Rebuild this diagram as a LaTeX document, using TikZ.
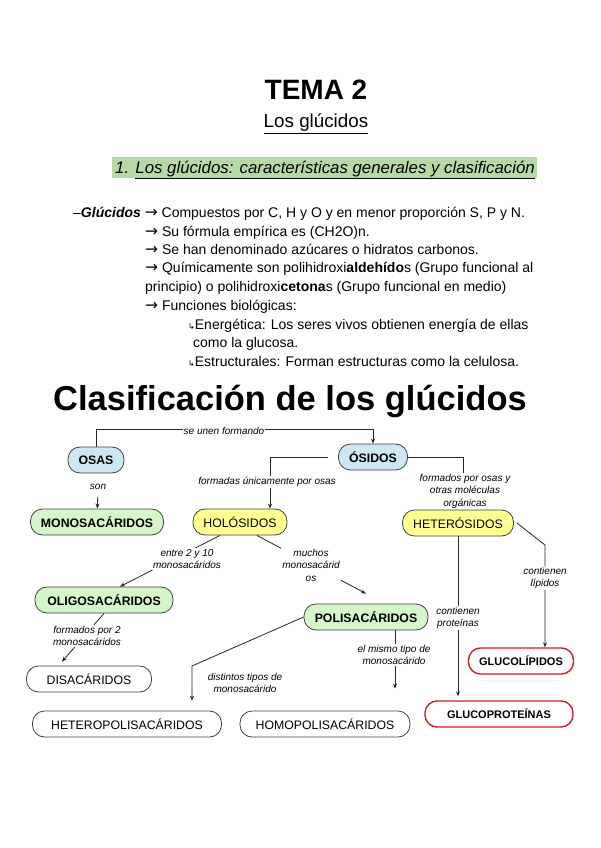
\documentclass[tikz,border=0pt]{standalone}
\usepackage{fontspec}
\setmainfont{Liberation Sans}
\newfontfamily\arrowfont{DejaVu Sans}
\usetikzlibrary{arrows.meta,positioning}

\definecolor{osablue}{RGB}{205,232,242}
\definecolor{sacgreen}{RGB}{214,245,202}
\definecolor{osidyellow}{RGB}{255,255,145}
\definecolor{headgreen}{RGB}{182,217,166}
\definecolor{glured}{RGB}{210,30,30}
\newcommand\fsz[2]{\fontsize{#1}{#2}\selectfont}
\newcommand\hook{{\arrowfont\fsz{8}{8}↳}}
\newcommand\rarr{\raisebox{-0.6pt}{\arrowfont\fsz{15.5}{15}→}}

\begin{document}
\begin{tikzpicture}[x=1pt, y=-1pt,
  box/.style={draw=black!75, line width=0.8pt, rounded corners=12pt, minimum height=26pt, inner sep=2pt, font=\fsz{12.3}{14}},
  osabox/.style={box, fill=osablue, font=\fsz{12.3}{14}\bfseries},
  sacbox/.style={box, fill=sacgreen, font=\fsz{12.3}{14}\bfseries},
  osidbox/.style={box, fill=osidyellow},
  plainbox/.style={box, fill=white},
  redbox/.style={box, draw=glured, line width=1.4pt, fill=white, font=\fsz{11}{13}\bfseries},
  lbl/.style={font=\fsz{10}{12.5}\itshape, align=center, inner sep=1pt, fill=white},
  arr/.style={draw=black!85, line width=0.8pt, -{Stealth[length=5pt,width=4pt]}},
  txt/.style={anchor=base west, inner sep=0pt, font=\fsz{14}{15}}]
  \useasboundingbox[fill=white] (0,0) rectangle (600,848);

  % headings
  \node[anchor=base, inner sep=0pt, font=\fsz{28}{30}\bfseries] (tema) at (316,100) {TEMA 2};
  \node[anchor=base, inner sep=0pt, font=\fsz{18.8}{20}] (sub) at (316,128) {\underline{Los glúcidos}};
  \fill[headgreen] (112,157) rectangle (537,178);
  \node[anchor=base west, inner sep=0pt, font=\fsz{16.8}{18}\itshape] (sec) at (115,173) {1. \underline{Los glúcidos: características generales y clasificación}};

  % text block
  \node[txt] (l1) at (73,217) {–\textbf{\textit{Glúcidos}} \rarr{} Compuestos por C, H y O y en menor proporción S, P y N.};
  \node[txt] (l2) at (145,236) {\rarr{} Su fórmula empírica es (CH2O)n.};
  \node[txt] (l3) at (145,254) {\rarr{} Se han denominado azúcares o hidratos carbonos.};
  \node[txt] (l4) at (145,272) {\rarr{} Químicamente son polihidroxi\textbf{aldehído}s (Grupo funcional al};
  \node[txt] (l5) at (145,291) {principio) o polihidroxi\textbf{cetona}s (Grupo funcional en medio)};
  \node[txt] (l6) at (145,310) {\rarr{} Funciones biológicas:};
  \node[txt] (l7) at (188,329) {\hook Energética: Los seres vivos obtienen energía de ellas};
  \node[txt] (l8) at (193,347) {como la glucosa.};
  \node[txt] (l9) at (188,366) {\hook Estructurales: Forman estructuras como la celulosa.};

  \node[anchor=base, inner sep=0pt, font=\fsz{34.5}{36}\bfseries] (clas) at (290,410) {Clasificación de los glúcidos};

  % boxes
  \node[osabox, minimum width=56pt] (osas) at (96,460) {OSAS};
  \node[osabox, minimum width=69pt] (osid) at (373,457) {ÓSIDOS};
  \node[sacbox, minimum width=133pt] (mono) at (97,522) {MONOSACÁRIDOS};
  \node[osidbox, minimum width=94pt] (hol) at (240,522) {HOLÓSIDOS};
  \node[osidbox, minimum width=111pt] (het) at (458,523) {HETERÓSIDOS};
  \node[sacbox, minimum width=138pt] (oligo) at (104,600) {OLIGOSACÁRIDOS};
  \node[sacbox, minimum width=124pt] (poli) at (366,617) {POLISACÁRIDOS};
  \node[plainbox, minimum width=125pt] (dis) at (89,679) {DISACÁRIDOS};
  \node[plainbox, minimum width=189pt] (hetpol) at (127,724) {HETEROPOLISACÁRIDOS};
  \node[plainbox, minimum width=170pt] (hompol) at (325,724) {HOMOPOLISACÁRIDOS};
  \node[redbox, minimum width=105pt] (glip) at (521,661) {GLUCOLÍPIDOS};
  \node[redbox, minimum width=148pt] (gprot) at (499,714) {GLUCOPROTEÍNAS};

  \coordinate (hbend) at (192,666);
  \coordinate (lbend) at (545,545);

  % connectors
  \draw[arr] (osas.north) -- ++(0,-17) -| (osid.north);
  \draw[arr] ([xshift=-10pt]osid.west) -| ([xshift=30pt]hol.north);
  \draw[arr] (osid.east) -| ([xshift=5pt]het.north);
  \draw[arr] ([xshift=-20pt]hol.south) -- ([xshift=16pt]oligo.north);
  \draw[arr] ([xshift=17pt]hol.south) -- ([yshift=10pt]poli.north);
  \draw[arr] (oligo.south) -- ([xshift=-27pt,yshift=4pt]dis.north);
  \draw[arr] (poli.west) -- (hbend) -- ([xshift=65pt,yshift=10pt]hetpol.north);
  \draw[arr] ([xshift=29pt]poli.south) -- ([xshift=70pt,yshift=22pt]hompol.north);
  \draw[arr, shorten >=4pt] (het.south) -- (het.south |- gprot.north);
  \draw[arr] ([xshift=3pt]het.east) -- (lbend) -- ([xshift=24pt]glip.north);

  % labels
  \node[lbl] (unen) at (224,431) {se unen formando};
  \node[lbl] (son) at (98,487) {son};
  \draw[arr, shorten <=6pt] (son) -- (mono);
  \node[lbl] (unica) at (267,482) {formadas únicamente por osas};
  \node[lbl] (otras) at (465,491) {formados por osas y\\otras moléculas\\orgánicas};
  \node[lbl] (entre) at (187,559) {entre 2 y 10\\monosacáridos};
  \node[lbl] (muchos) at (311,565) {muchos\\monosacárid\\os};
  \node[lbl] (dos) at (87,636) {formados por 2\\monosacáridos};
  \node[lbl] (distin) at (245,683) {distintos tipos de\\monosacárido};
  \node[lbl] (mismo) at (394,655) {el mismo tipo de\\monosacárido};
  \node[lbl] (prot) at (458,618) {contienen\\proteínas};
  \node[lbl] (lip) at (545,578) {contienen\\lípidos};
\end{tikzpicture}
\end{document}
